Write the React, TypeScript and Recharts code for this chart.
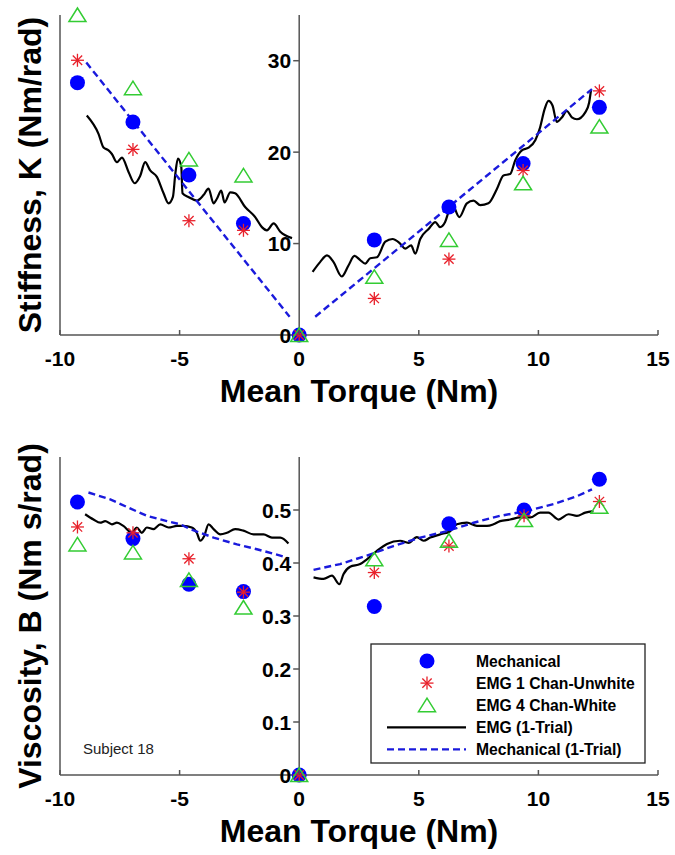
import React from "react"
import { ComposedChart, Line, Scatter, XAxis, YAxis, ReferenceLine, ReferenceDot } from "recharts"

const FONT = '"Liberation Sans", Arial, Helvetica, sans-serif'
const AXIS = "#555"

// torque levels (Nm)
const torqueK = [-9.27, -6.95, -4.61, -2.33, 0, 3.14, 6.26, 9.36, 12.55]
const torqueB = [-9.27, -6.95, -4.61, -2.33, 0, 3.14, 6.26, 9.4, 12.55]
const xTicks = [-10, -5, 0, 5, 10, 15]

// stiffness K (Nm/rad)
const mechK = [27.6, 23.3, 17.5, 12.2, 0, 10.4, 14.0, 18.75, 24.9]
const emg1K = [30.05, 20.3, 12.5, 11.45, 0, 4.0, 8.3, 18.0, 26.7]
const emg4K = [35.0, 27.0, 19.2, 17.45, 0, 6.36, 10.4, 16.6, 22.8]
const kTicks = [0, 10, 20, 30]

const emgTrialKLeftX = [-8.88, -8.39, -8.18, -7.97, -7.83, -7.62, -7.41, -7.13, -6.88, -6.65, -6.44, -6.23, -5.95, -5.67, -5.46, -5.28, -5.18, -5.07, -4.93, -4.88, -4.63, -4.28, -4.0, -3.79, -3.58, -3.44, -3.26, -3.12, -2.88, -2.68, -2.26, -1.84, -1.56, -1.35, -1.07, -0.79, -0.3]
const emgTrialKLeftY = [24.0, 22.0, 20.5, 20.2, 19.8, 18.9, 19.4, 17.8, 16.6, 17.4, 18.9, 18.0, 17.3, 15.5, 14.4, 15.1, 17.6, 19.3, 18.4, 15.5, 15.1, 14.7, 15.3, 16.0, 14.4, 14.9, 15.8, 14.5, 15.6, 15.5, 14.0, 12.9, 11.8, 11.45, 12.2, 11.3, 10.6]
const emgTrialKRightX = [0.56, 0.88, 1.16, 1.43, 1.78, 2.06, 2.31, 2.55, 2.76, 2.97, 3.25, 3.6, 3.9, 4.22, 4.43, 4.68, 4.85, 5.06, 5.41, 5.69, 5.89, 6.1, 6.24, 6.38, 6.69, 7.01, 7.29, 7.57, 7.91, 8.27, 8.54, 8.82, 9.03, 9.31, 9.59, 9.87, 10.07, 10.26, 10.42, 10.59, 10.77, 10.98, 11.19, 11.4, 11.61, 11.96, 12.12, 12.2]
const emgTrialKRightY = [6.9, 8.0, 8.7, 8.0, 6.4, 7.6, 8.65, 8.2, 7.8, 8.4, 8.5, 10.2, 10.5, 10.0, 9.45, 9.8, 8.9, 10.5, 11.6, 12.35, 11.8, 12.35, 13.45, 14.4, 12.9, 14.4, 14.7, 14.2, 14.4, 16.0, 17.45, 17.6, 19.1, 20.2, 20.5, 21.3, 22.7, 24.7, 25.6, 25.1, 23.3, 23.8, 24.5, 23.8, 23.6, 24.35, 25.4, 26.8]
const mechTrialKLeftX = [-8.9, -4.6, -0.4]
const mechTrialKLeftY = [29.8, 15.7, 2.0]
const mechTrialKRightX = [0.67, 6.3, 12.24]
const mechTrialKRightY = [2.0, 14.1, 26.9]

// viscosity B (Nm s/rad)
const mechB = [0.515, 0.446, 0.36, 0.346, 0, 0.318, 0.474, 0.5, 0.558]
const emg1B = [0.468, 0.457, 0.408, 0.345, 0, 0.382, 0.432, 0.489, 0.516]
const emg4B = [0.435, 0.42, 0.368, 0.316, 0, 0.407, 0.442, 0.481, 0.506]
const bTicks = [0, 0.1, 0.2, 0.3, 0.4, 0.5]

const emgTrialBLeftX = [-8.95, -8.6, -8.32, -8.11, -7.83, -7.62, -7.35, -7.0, -6.79, -6.58, -6.37, -6.09, -5.81, -5.46, -5.11, -4.84, -4.49, -4.28, -4.14, -3.97, -3.79, -3.58, -3.3, -3.02, -2.68, -2.33, -1.91, -1.49, -1.14, -0.79, -0.45]
const emgTrialBLeftY = [0.492, 0.482, 0.476, 0.479, 0.473, 0.476, 0.47, 0.457, 0.467, 0.457, 0.467, 0.464, 0.473, 0.467, 0.47, 0.47, 0.467, 0.457, 0.442, 0.451, 0.473, 0.464, 0.454, 0.457, 0.464, 0.461, 0.454, 0.454, 0.448, 0.448, 0.437]
const emgTrialBRightX = [0.6, 1.02, 1.37, 1.68, 1.85, 2.13, 2.55, 2.83, 3.25, 3.67, 4.22, 4.57, 4.92, 5.2, 5.48, 5.89, 6.31, 6.59, 7.01, 7.43, 7.85, 8.12, 8.4, 8.82, 9.24, 9.66, 10.07, 10.42, 10.84, 11.26, 11.61, 11.96, 12.3]
const emgTrialBRightY = [0.373, 0.37, 0.376, 0.36, 0.379, 0.393, 0.398, 0.407, 0.423, 0.436, 0.442, 0.438, 0.449, 0.442, 0.448, 0.454, 0.46, 0.473, 0.476, 0.47, 0.47, 0.473, 0.479, 0.482, 0.486, 0.486, 0.495, 0.495, 0.482, 0.492, 0.489, 0.495, 0.498]
const mechTrialBLeftX = [-8.81, -7.9, -7.07, -6.37, -5.53, -4.97, -4.56, -3.58, -2.6, -1.77, -0.79, -0.51]
const mechTrialBLeftY = [0.533, 0.52, 0.503, 0.489, 0.479, 0.473, 0.464, 0.448, 0.435, 0.426, 0.414, 0.41]
const mechTrialBRightX = [0.6, 1.71, 2.83, 3.94, 5.06, 6.17, 7.29, 8.4, 9.52, 10.63, 11.61, 12.24]
const mechTrialBRightY = [0.387, 0.398, 0.414, 0.432, 0.448, 0.46, 0.476, 0.489, 0.498, 0.511, 0.526, 0.539]

const pts = (xs: number[], ys: number[]) => xs.map((x, i) => ({ x, y: ys[i] }))
// left and right branches, broken at zero torque
const branches = (lx: number[], ly: number[], rx: number[], ry: number[]) => [
  ...pts(lx, ly),
  { x: 0, y: null },
  ...pts(rx, ry),
]

const BLUE = "#0000ff"
const RED = "#e8202a"
const GREEN = "#33cc33"

const DotMark = (p: any) => <circle cx={p.cx} cy={p.cy} r={7.5} fill={BLUE} />

const StarMark = (p: any) => {
  const { cx, cy } = p
  const r = 6.5
  const d = r * 0.72
  return (
    <g stroke={RED} strokeWidth={1.3}>
      <line x1={cx - r} y1={cy} x2={cx + r} y2={cy} />
      <line x1={cx} y1={cy - r} x2={cx} y2={cy + r} />
      <line x1={cx - d} y1={cy - d} x2={cx + d} y2={cy + d} />
      <line x1={cx - d} y1={cy + d} x2={cx + d} y2={cy - d} />
    </g>
  )
}

const TriMark = (p: any) => {
  const { cx, cy } = p
  return (
    <polygon
      points={`${cx},${cy - 7} ${cx - 8.5},${cy + 6.5} ${cx + 8.5},${cy + 6.5}`}
      fill="none"
      stroke={GREEN}
      strokeWidth={1.5}
    />
  )
}

const XTick = (p: any) => (
  <g>
    <line x1={p.x} y1={p.y} x2={p.x} y2={p.y - 5} stroke={AXIS} strokeWidth={1.5} />
    <text x={p.x} y={p.y + 31} textAnchor="middle" fontFamily={FONT} fontSize={21} fontWeight="bold" fill="#000">
      {p.payload.value}
    </text>
  </g>
)

const centerTick = (label: string) => (p: any) => (
  <g>
    <line x1={p.cx - 6} y1={p.cy} x2={p.cx} y2={p.cy} stroke={AXIS} strokeWidth={1.5} />
    <text x={p.cx - 8} y={p.cy + 7.5} textAnchor="end" fontFamily={FONT} fontSize={21} fontWeight="bold" fill="#000">
      {label}
    </text>
  </g>
)

type PanelProps = {
  height: number
  marginTop: number
  xAxisHeight: number
  yDomain: [number, number]
  yTicks: number[]
  yTitle: string
  torque: number[]
  mech: number[]
  emg1: number[]
  emg4: number[]
  emgTrial: any[]
  mechTrial: any[]
}

function Panel(props: PanelProps) {
  const { torque } = props
  return (
    <ComposedChart width={675} height={props.height} margin={{ top: props.marginTop, right: 17, left: 0, bottom: 0 }}>
      <XAxis
        type="number"
        dataKey="x"
        domain={[-10, 15]}
        ticks={xTicks}
        interval={0}
        allowDataOverflow
        height={props.xAxisHeight}
        tickSize={0}
        tickMargin={0}
        tick={<XTick />}
        axisLine={{ stroke: AXIS, strokeWidth: 1.5 }}
        label={{
          content: (lp: any) => {
            const vb = lp.viewBox
            return (
              <text x={vb.x + vb.width / 2} y={vb.y + 67} textAnchor="middle" fontFamily={FONT} fontSize={32} fontWeight="bold" fill="#000">
                Mean Torque (Nm)
              </text>
            )
          },
        }}
      />
      <YAxis
        type="number"
        dataKey="y"
        domain={props.yDomain}
        width={60}
        tick={false}
        tickLine={false}
        axisLine={{ stroke: AXIS, strokeWidth: 1.5 }}
        label={{
          content: (lp: any) => {
            const vb = lp.viewBox
            const cx = 41
            const cy = vb.y + vb.height / 2
            return (
              <text x={cx} y={cy} transform={`rotate(-90, ${cx}, ${cy})`} textAnchor="middle" fontFamily={FONT} fontSize={32} fontWeight="bold" fill="#000">
                {props.yTitle}
              </text>
            )
          },
        }}
      />
      <ReferenceLine x={0} stroke={AXIS} strokeWidth={1.5} />
      {props.yTicks.map((v) => (
        <ReferenceDot key={v} x={0} y={v} r={0} shape={centerTick(String(v))} />
      ))}
      <Scatter data={pts(torque, props.mech)} shape={DotMark} isAnimationActive={false} />
      <Scatter data={pts(torque, props.emg1)} shape={StarMark} isAnimationActive={false} />
      <Scatter data={pts(torque, props.emg4)} shape={TriMark} isAnimationActive={false} />
      <Line data={props.emgTrial} dataKey="y" type="monotone" stroke="#000" strokeWidth={2.2} dot={false} isAnimationActive={false} />
      <Line data={props.mechTrial} dataKey="y" type="linear" stroke="#1a1adc" strokeWidth={2.4} strokeDasharray="7 4" dot={false} isAnimationActive={false} />
    </ComposedChart>
  )
}

const legendItems = [
  { label: "Mechanical", kind: "dot" },
  { label: "EMG 1 Chan-Unwhite", kind: "star" },
  { label: "EMG 4 Chan-White", kind: "tri" },
  { label: "EMG (1-Trial)", kind: "solid" },
  { label: "Mechanical (1-Trial)", kind: "dash" },
]

function LegendBox() {
  return (
    <svg width={276} height={121} style={{ position: "absolute", left: 370, top: 643 }}>
      <rect x={1} y={1} width={274} height={119} fill="#fff" stroke="#222" strokeWidth={1.3} />
      {legendItems.map((it, i) => {
        const cy = 18 + i * 22.1
        const mx = 57
        let mark: any = null
        if (it.kind === "dot") mark = <DotMark cx={mx} cy={cy} />
        if (it.kind === "star") mark = <StarMark cx={mx} cy={cy} />
        if (it.kind === "tri") mark = <TriMark cx={mx} cy={cy} />
        if (it.kind === "solid") mark = <line x1={17} y1={cy} x2={96} y2={cy} stroke="#000" strokeWidth={2.2} />
        if (it.kind === "dash") mark = <line x1={17} y1={cy} x2={96} y2={cy} stroke="#1a1adc" strokeWidth={2.4} strokeDasharray="7 4" />
        return (
          <g key={it.label}>
            {mark}
            <text x={106} y={cy + 5.5} fontFamily={FONT} fontSize={15.7} fontWeight="bold" fill="#000">
              {it.label}
            </text>
          </g>
        )
      })}
    </svg>
  )
}

export default function App() {
  return (
    <div style={{ position: "absolute", left: 0, top: 0, width: 675, height: 855, background: "#fff" }}>
      <div style={{ position: "absolute", left: 0, top: 0 }}>
        <Panel
          height={420}
          marginTop={15}
          xAxisHeight={85}
          yDomain={[0, 35]}
          yTicks={kTicks}
          yTitle="Stiffness, K (Nm/rad)"
          torque={torqueK}
          mech={mechK}
          emg1={emg1K}
          emg4={emg4K}
          emgTrial={branches(emgTrialKLeftX, emgTrialKLeftY, emgTrialKRightX, emgTrialKRightY)}
          mechTrial={branches(mechTrialKLeftX, mechTrialKLeftY, mechTrialKRightX, mechTrialKRightY)}
        />
      </div>
      <div style={{ position: "absolute", left: 0, top: 440 }}>
        <Panel
          height={415}
          marginTop={17}
          xAxisHeight={80}
          yDomain={[0, 0.6]}
          yTicks={bTicks}
          yTitle="Viscosity, B (Nm s/rad)"
          torque={torqueB}
          mech={mechB}
          emg1={emg1B}
          emg4={emg4B}
          emgTrial={branches(emgTrialBLeftX, emgTrialBLeftY, emgTrialBRightX, emgTrialBRightY)}
          mechTrial={branches(mechTrialBLeftX, mechTrialBLeftY, mechTrialBRightX, mechTrialBRightY)}
        />
      </div>
      <div style={{ position: "absolute", left: 83, top: 740, fontFamily: FONT, fontSize: 15, color: "#222" }}>Subject 18</div>
      <LegendBox />
    </div>
  )
}
